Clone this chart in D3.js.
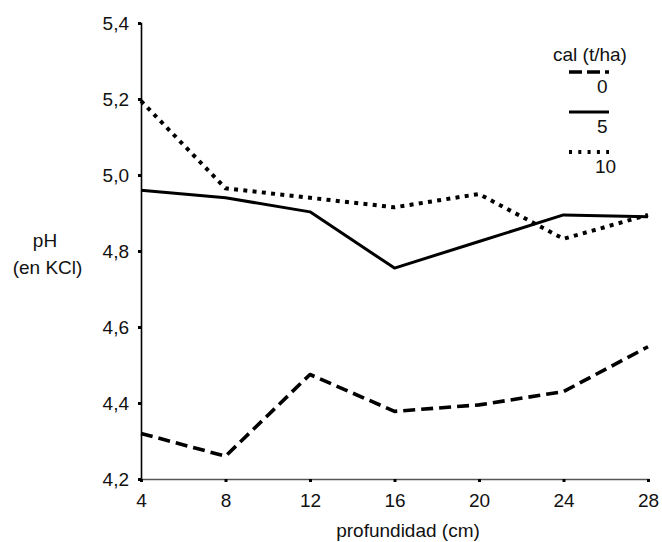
<!DOCTYPE html>
<html><head><meta charset="utf-8">
<script src="https://cdn.jsdelivr.net/npm/d3@7"></script>
<style>body{margin:0;background:#fff}svg{display:block}text{font-family:"Liberation Sans",Arial,sans-serif;fill:#111}</style>
</head><body>
<svg id="c" width="662" height="542"></svg>
<script>
const depths = [4, 8, 12, 16, 20, 24, 28];
const cal0  = [4.32, 4.26, 4.475, 4.378, 4.395, 4.43, 4.548];
const cal5  = [4.96, 4.94, 4.903, 4.755, 4.825, 4.895, 4.89];
const cal10 = [5.195, 4.965, 4.94, 4.915, 4.95, 4.832, 4.895];
const seriesNames = ["0", "5", "10"];
const yTicks = [4.2, 4.4, 4.6, 4.8, 5.0, 5.2, 5.4];
const xTicks = [4, 8, 12, 16, 20, 24, 28];

const FS = 19;
const svg = d3.select("#c");
const x = d3.scaleLinear().domain([4, 28]).range([141, 648]);
const y = d3.scaleLinear().domain([4.2, 5.4]).range([479, 23]);
const fmt = d => d3.format(".1f")(d).replace(".", ",");

// y axis
const ya = svg.append("g").attr("transform", "translate(141,0)")
  .call(d3.axisLeft(y).tickValues(yTicks).tickSize(3).tickFormat(fmt).tickPadding(9));
ya.select(".domain").attr("stroke", "#000").attr("stroke-width", 1.6);
ya.selectAll(".tick line").attr("stroke", "#000").attr("stroke-width", 3);
ya.selectAll(".tick text").attr("font-size", FS).attr("font-family", "Liberation Sans, Arial, sans-serif").attr("fill", "#111");

// x axis
const xa = svg.append("g").attr("transform", "translate(0,479)")
  .call(d3.axisBottom(x).tickValues(xTicks).tickSize(3).tickFormat(d3.format("d")).tickPadding(11.5));
xa.select(".domain").attr("stroke", "#555").attr("stroke-width", 1.6);
xa.selectAll(".tick line").attr("stroke", "#000").attr("stroke-width", 3);
xa.selectAll(".tick text").attr("font-size", FS).attr("font-family", "Liberation Sans, Arial, sans-serif").attr("fill", "#111");

// labels
svg.append("text").attr("x", 408).attr("y", 537).attr("text-anchor", "middle").attr("font-size", FS).text("profundidad (cm)");
svg.append("text").attr("x", 45).attr("y", 247).attr("text-anchor", "middle").attr("font-size", FS).text("pH");
svg.append("text").attr("x", 47.5).attr("y", 274).attr("text-anchor", "middle").attr("font-size", FS).text("(en KCl)");

const styles = [
  {dash: "12,6", w: 3.6},
  {dash: null, w: 3},
  {dash: "4,5.3", w: 4}
];
const data = [cal0, cal5, cal10];
const line = d3.line().x((d, i) => x(depths[i])).y(d => y(d));
data.forEach((s, k) => {
  const p = svg.append("path").datum(s).attr("d", line)
    .attr("fill", "none").attr("stroke", "#000").attr("stroke-width", styles[k].w)
    .attr("stroke-linejoin", "round");
  if (styles[k].dash) p.attr("stroke-dasharray", styles[k].dash);
});

// legend
svg.append("text").attr("x", 553).attr("y", 61).attr("font-size", FS).text("cal (t/ha)");
const legY = [72, 112, 152];
const legLabX = [597, 597, 595];
const legStyles = [{dash: "13,5", w: 3.6}, {dash: null, w: 3}, {dash: "3,6.3", w: 4}];
seriesNames.forEach((n, k) => {
  const l = svg.append("line").attr("x1", 569).attr("x2", 609).attr("y1", legY[k]).attr("y2", legY[k])
    .attr("stroke", "#000").attr("stroke-width", legStyles[k].w);
  if (legStyles[k].dash) l.attr("stroke-dasharray", legStyles[k].dash);
  svg.append("text").attr("x", legLabX[k]).attr("y", legY[k] + 21).attr("font-size", FS).text(n);
});
</script>
</body></html>
